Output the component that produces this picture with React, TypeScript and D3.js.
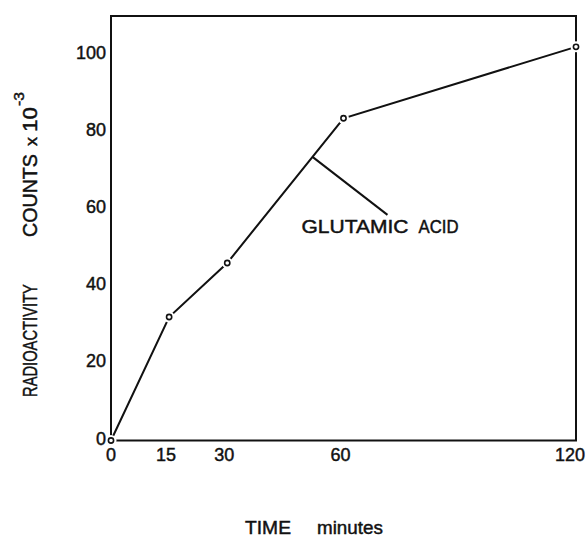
import React, { useRef, useEffect } from 'react';
import * as d3 from 'd3';

// time (minutes) vs radioactivity counts (x 10^-3)
const times = [0, 15, 30, 60, 120];
const counts = [0, 32, 46, 83.5, 102];
const xTicks = [0, 15, 30, 60, 120];
const yTicks = [0, 20, 40, 60, 80, 100];
const seriesLabel = ['GLUTAMIC', 'ACID'];
const annotationTime = 52;

const App = () => {
  const ref = useRef<SVGSVGElement>(null);

  useEffect(() => {
    const svg = d3.select(ref.current);
    svg.selectAll('*').remove();

    const font = '"Liberation Sans", Arial, sans-serif';
    const ink = '#111';

    const x = d3.scaleLinear().domain([0, 120]).range([111, 576]);
    const y = d3.scaleLinear().domain([0, 110]).range([440.5, 16]);

    const data = times.map((t, i) => ({ t, v: counts[i] }));

    // stretch/squeeze a text along its run only, so cap height stays put
    const label = (parent: any, txt: string, px: number, py: number, len: number, size: number) => {
      const t = parent.append('text')
        .attr('font-family', font)
        .attr('font-size', size)
        .attr('fill', ink)
        .attr('stroke', ink)
        .attr('stroke-width', 0.45)
        .text(txt);
      const natural = (t.node() as SVGTextElement).getComputedTextLength() || len;
      t.attr('transform', `translate(${px},${py}) scale(${len / natural},1)`);
      return t;
    };

    // frame
    svg.append('rect')
      .attr('x', x(0))
      .attr('y', y(110))
      .attr('width', x(120) - x(0))
      .attr('height', y(0) - y(110))
      .attr('fill', 'none')
      .attr('stroke', ink)
      .attr('stroke-width', 2);

    // line
    const line = d3.line<{ t: number; v: number }>()
      .x(d => x(d.t))
      .y(d => y(d.v));

    svg.append('path')
      .datum(data)
      .attr('d', line)
      .attr('fill', 'none')
      .attr('stroke', ink)
      .attr('stroke-width', 2);

    // white halos so the line stops short of the markers
    svg.selectAll('.halo')
      .data(data)
      .enter()
      .append('circle')
      .attr('cx', d => x(d.t))
      .attr('cy', d => y(d.v))
      .attr('r', 5.5)
      .attr('fill', 'white');

    svg.selectAll('.pt')
      .data(data)
      .enter()
      .append('circle')
      .attr('cx', d => x(d.t))
      .attr('cy', d => y(d.v))
      .attr('r', 2.6)
      .attr('fill', 'white')
      .attr('stroke', ink)
      .attr('stroke-width', 1.6);

    // x tick labels
    svg.selectAll('.xl')
      .data(xTicks)
      .enter()
      .append('text')
      .attr('x', d => (d === 0 ? x(d) : d === 120 ? x(d) - 6 : x(d) - 3))
      .attr('y', 461)
      .attr('text-anchor', 'middle')
      .attr('font-family', font)
      .attr('font-size', 18)
      .attr('fill', ink)
      .attr('stroke', ink)
      .attr('stroke-width', 0.45)
      .text(d => d);

    // y tick labels
    svg.selectAll('.yl')
      .data(yTicks)
      .enter()
      .append('text')
      .attr('x', 106)
      .attr('y', d => y(d) + 4)
      .attr('text-anchor', 'end')
      .attr('font-family', font)
      .attr('font-size', 18)
      .attr('fill', ink)
      .attr('stroke', ink)
      .attr('stroke-width', 0.45)
      .text(d => d);

    // annotation leader
    const i = d3.bisectLeft(times, annotationTime);
    const f = (annotationTime - times[i - 1]) / (times[i] - times[i - 1]);
    const av = counts[i - 1] + f * (counts[i] - counts[i - 1]);
    const ax = x(annotationTime);
    const ay = y(av);
    const ex = ax + 75;
    const ey = ay + 58;

    svg.append('line')
      .attr('x1', ax).attr('y1', ay)
      .attr('x2', ex).attr('y2', ey)
      .attr('stroke', ink)
      .attr('stroke-width', 2);

    label(svg, seriesLabel[0], ex - 86, ey + 18, 107, 18);
    label(svg, seriesLabel[1], ex + 31, ey + 18, 40, 18);

    // x axis title
    label(svg, 'TIME', 245, 534, 46, 18);
    label(svg, 'minutes', 317, 534, 66, 18);

    // y axis title (rotated)
    const yt = svg.append('g').attr('transform', 'translate(37,0) rotate(-90)');
    label(yt, 'RADIOACTIVITY', -397, 0, 113, 20);
    label(yt, 'COUNTS', -237, 0, 83, 20);
    label(yt, 'x', -146, 0, 9, 16);
    label(yt, '10', -132, 0, 25, 20);
    label(yt, '-3', -106, -13, 14, 14);
  }, []);

  return (
    <svg
      ref={ref}
      width={586}
      height={538}
      style={{ position: 'absolute', left: 0, top: 0, background: 'white' }}
    />
  );
};

export default App;
